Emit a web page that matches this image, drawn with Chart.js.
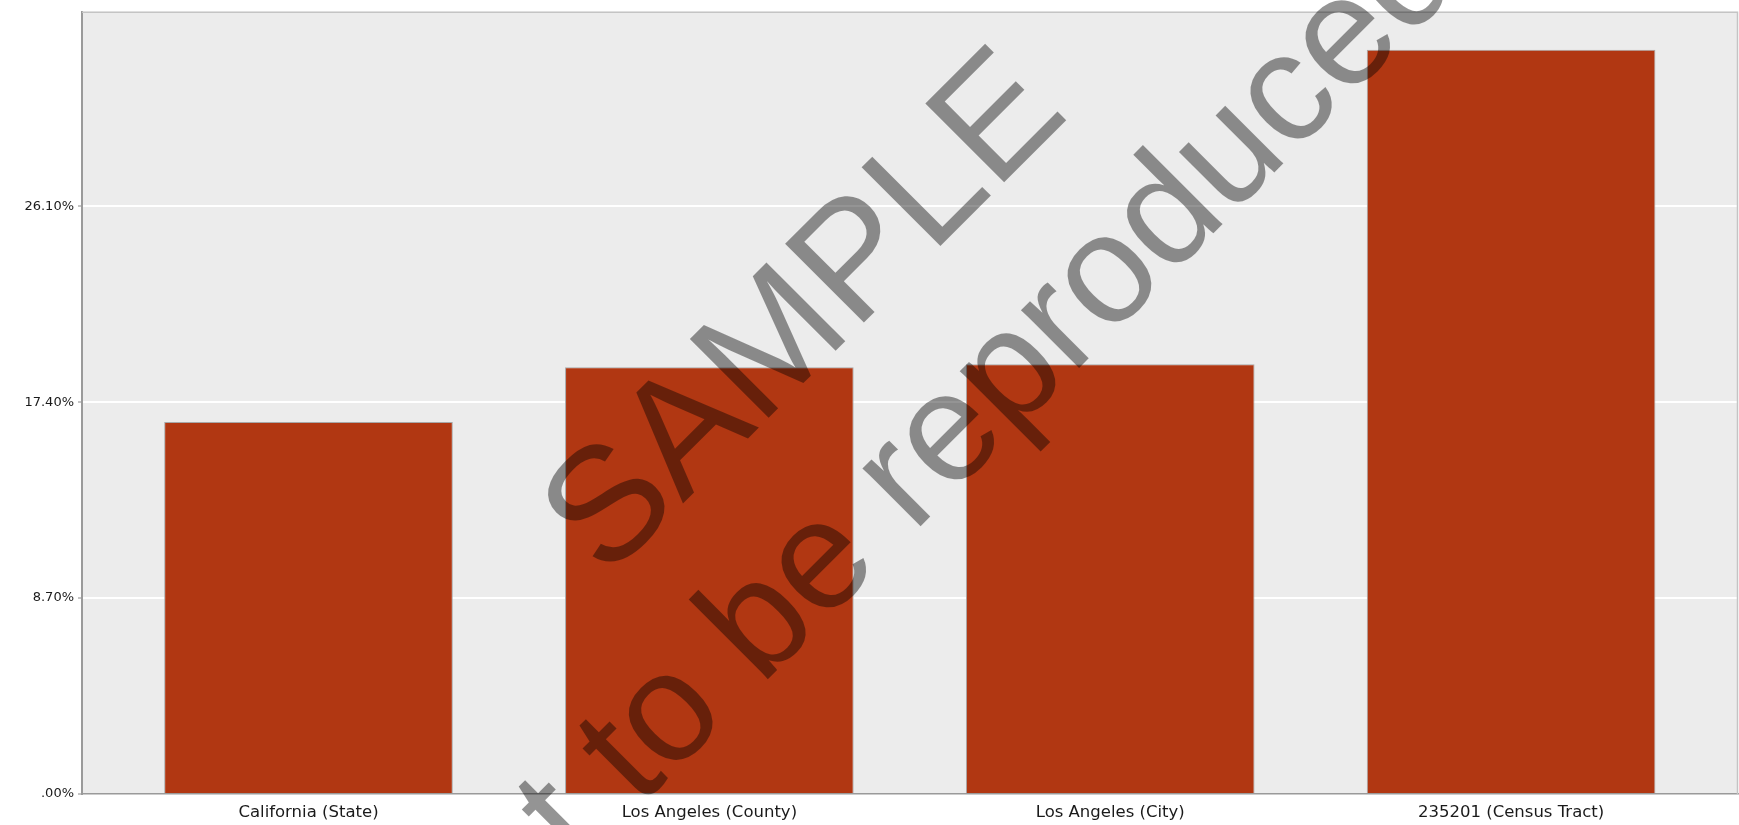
<!DOCTYPE html>
<html>
<head>
<meta charset="utf-8">
<title>Share by area</title>
<script src="https://cdn.jsdelivr.net/npm/chart.js@4/dist/chart.umd.min.js"></script>
<style>
  html, body { margin: 0; padding: 0; background: #fff; }
  #wrap { width: 1739px; height: 825px; position: relative; }
</style>
</head>
<body>
<div id="wrap"><canvas id="areaChart"></canvas></div>
<script>
// ===== data =====
const categories = ["California (State)", "Los Angeles (County)", "Los Angeles (City)", "235201 (Census Tract)"];
const shares = [16.52, 18.95, 19.09, 33.06];
const yTicks = [0, 8.7, 17.4, 26.1];

const BAR_COLOR = "#b13712";
const PLOT_BG = "#ececec";

// grey plot background + light frame on top/right
const plotFrame = {
  id: "plotFrame",
  beforeDraw(chart) {
    const { ctx, chartArea: a } = chart;
    ctx.save();
    ctx.fillStyle = PLOT_BG;
    ctx.fillRect(a.left, a.top, a.right - a.left, a.bottom - a.top);
    ctx.restore();
  },
  afterDatasetsDraw(chart) {
    const { ctx, chartArea: a } = chart;
    ctx.save();
    ctx.strokeStyle = "#c4c4c4";
    ctx.lineWidth = 1.5;
    ctx.beginPath();
    ctx.moveTo(a.left, a.top + 0.5);
    ctx.lineTo(a.right - 0.5, a.top + 0.5);
    ctx.lineTo(a.right - 0.5, a.bottom);
    ctx.stroke();
    ctx.restore();
  }
};

// stamp across the chart
const stamp = {
  id: "stamp",
  afterDraw(chart) {
    const ctx = chart.ctx;
    ctx.save();
    ctx.translate(851, 377);
    ctx.rotate(-Math.PI / 4);
    ctx.fillStyle = "rgba(0,0,0,0.42)";
    ctx.textAlign = "center";
    ctx.textBaseline = "middle";
    ctx.font = "162px 'Liberation Sans', Arial, sans-serif";
    ctx.fillText("SAMPLE", 12, -74);
    ctx.font = "155px 'Liberation Sans', Arial, sans-serif";
    ctx.fillText("Not to be reproduced", -11, 112);
    ctx.restore();
  }
};

const ctx = document.getElementById("areaChart").getContext("2d");
new Chart(ctx, {
  type: "bar",
  data: {
    datasets: [{
      data: shares.map((v, i) => ({ x: i, y: v })),
      backgroundColor: BAR_COLOR,
      borderColor: "#a8a8a8",
      borderWidth: 1,
      barPercentage: 0.72,
      categoryPercentage: 1
    }]
  },
  options: {
    responsive: true,
    maintainAspectRatio: false,
    animation: false,
    layout: { padding: { top: 7, right: 1, left: 0, bottom: 0 } },
    plugins: {
      legend: { display: false },
      tooltip: { enabled: false }
    },
    scales: {
      x: {
        type: "linear",
        offset: false,
        min: -0.565,
        max: 3.566,
        grid: { display: false, drawTicks: false },
        border: { display: true, color: "#9a9a9a", width: 1.5 },
        afterBuildTicks: (scale) => {
          scale.ticks = categories.map((c, i) => ({ value: i }));
        },
        afterFit: (scale) => { scale.height = 31; },
        ticks: {
          autoSkip: false,
          maxRotation: 0,
          padding: 9,
          color: "#1a1a1a",
          font: { family: "'DejaVu Sans', sans-serif", size: 16.5 },
          callback: (v) => categories[v]
        }
      },
      y: {
        min: 0,
        max: 34.74,
        afterBuildTicks: (scale) => {
          scale.ticks = yTicks.map((v) => ({ value: v }));
        },
        afterFit: (scale) => { scale.width = 82; },
        grid: {
          color: "#ffffff",
          lineWidth: 2,
          drawTicks: true,
          tickLength: 4,
          tickColor: "#8a8a8a",
          tickWidth: 1
        },
        border: { display: true, color: "#9a9a9a", width: 2 },
        ticks: {
          padding: 4,
          color: "#1a1a1a",
          font: { family: "'DejaVu Sans', sans-serif", size: 13 },
          callback: (v) => (v === 0 ? ".00%" : v.toFixed(2) + "%")
        }
      }
    }
  },
  plugins: [plotFrame, stamp]
});
</script>
</body>
</html>
